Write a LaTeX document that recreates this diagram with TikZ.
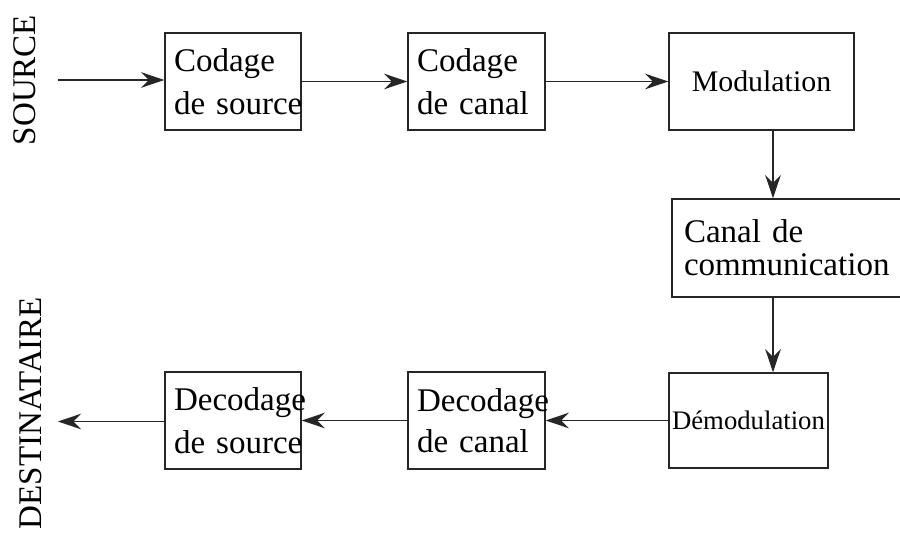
\documentclass[tikz,border=0pt]{standalone}
\usepackage{fontspec}
\setmainfont{Liberation Serif}
\usetikzlibrary{arrows.meta}

\begin{document}
\begin{tikzpicture}[line width=0.03cm,
    box/.style={draw=black!85, minimum height=1.94cm, inner xsep=0.18cm, inner ysep=0pt,
      align=left, font=\fontsize{18.8}{24.5}\selectfont},
    flow/.style={draw=black!85, -{Stealth[length=0.46cm, width=0.31cm, inset=0.15cm]}},
    side/.style={rotate=90, inner sep=0pt, font=\fontsize{18.8}{22}\selectfont}]
      \useasboundingbox (0,0) rectangle (18,-10.74);

      % Nodes
      \node[box, text width=2.36cm] (srcenc) at (4.66, -1.63) {Codage\\de~source};
      \node[box, text width=2.38cm] (chanenc) at (9.53, -1.63) {Codage\\de~canal};
      \node[box, minimum width=3.70cm, align=center, font=\fontsize{17}{20}\selectfont] (modul) at (15.23, -1.63) {Modulation};
      \node[box, text width=4.14cm, inner xsep=0.24cm, minimum height=1.96cm,
        font=\fontsize{18.8}{18.8}\selectfont] (canal) at (15.75, -4.96) {Canal~de\\communication};
      \node[box, minimum width=3.18cm, minimum height=1.90cm, inner xsep=0.04cm, align=center,
        font=\fontsize{15.2}{18}\selectfont] (demodul) at (14.97, -8.41) {Démodulation};
      \node[box, text width=2.38cm, font=\fontsize{18.8}{23.5}\selectfont] (chandec) at (9.53, -8.41) {Decodage\\de~canal};
      \node[box, text width=2.36cm] (srcdec) at (4.66, -8.41) {Decodage\\de~source};

      \node[side] (source) at (0.49, -1.60) {SOURCE};
      \node[side] (dest) at (0.62, -8.26) {DESTINATAIRE};

      \coordinate (in) at (1.16, -1.60);
      \coordinate (out) at (1.16, -8.43);
      \coordinate (down) at (15.46, 0);

      % Edges
      \draw[flow] (in) -- (in -| srcenc.west);
      \draw[flow] (srcenc) -- (chanenc);
      \draw[flow] (chanenc) -- (modul);
      \draw[flow] (down |- modul.south) -- (down |- canal.north);
      \draw[flow] (down |- canal.south) -- (down |- demodul.north);
      \draw[flow] (demodul) -- (chandec);
      \draw[flow] (chandec) -- (srcdec);
      \draw[flow] (srcdec.west |- out) -- (out);
    \end{tikzpicture}
\end{document}
